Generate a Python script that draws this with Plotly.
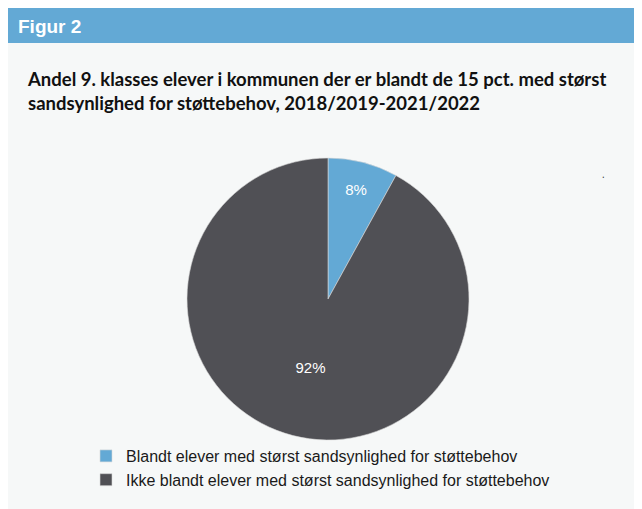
import plotly.graph_objects as go

# data
labels = ["Blandt elever med størst sandsynlighed for støttebehov",
          "Ikke blandt elever med størst sandsynlighed for støttebehov"]
values = [8, 92]
colors = ["#63a9d5", "#505055"]

W, H = 642, 509
OFF = 8  # page body margin

def px_x(x):
    return (x - OFF) / W

def px_y(y):
    return 1 - (y - OFF) / H

fig = go.Figure()

fig.add_trace(go.Pie(
    labels=labels,
    values=values,
    sort=False,
    direction="clockwise",
    rotation=0,
    marker=dict(colors=colors, line=dict(color="#d8d8d8", width=0.6)),
    texttemplate="%{value}%",
    textposition="inside",
    insidetextorientation="horizontal",
    textfont=dict(family="Liberation Sans, Arial", size=15, color="white"),
    hoverinfo="label+percent",
    domain=dict(x=[px_x(187), px_x(469)], y=[px_y(440), px_y(158)]),
))

shapes = [
    # light panel
    dict(type="rect", xref="paper", yref="paper", x0=0, x1=1, y0=0, y1=px_y(43),
         fillcolor="#f6f8f8", line_width=0, layer="below"),
    # blue header band
    dict(type="rect", xref="paper", yref="paper", x0=0, x1=1, y0=px_y(43), y1=1,
         fillcolor="#63a9d5", line_width=0, layer="below"),
]

annotations = [
    dict(text="<b>Figur 2</b>", x=px_x(16), y=px_y(26), xref="paper", yref="paper",
         xanchor="left", yanchor="middle", showarrow=False,
         font=dict(family="Liberation Sans, Arial", size=19, color="white")),
    dict(text="<b>Andel 9. klasses elever i kommunen der er blandt de 15 pct. med størst<br>"
              "sandsynlighed for støttebehov, 2018/2019-2021/2022</b>",
         x=px_x(25), y=px_y(66), xref="paper", yref="paper",
         xanchor="left", yanchor="top", align="left", showarrow=False,
         font=dict(family="Lato, Open Sans", size=18.5, color="#111111")),
    dict(text=".", x=px_x(607), y=px_y(165), xref="paper", yref="paper",
         showarrow=False, font=dict(size=10, color="#333333")),
]

fig.update_layout(
    width=W, height=H,
    margin=dict(l=0, r=0, t=0, b=0, autoexpand=False),
    paper_bgcolor="white",
    plot_bgcolor="white",
    shapes=shapes,
    annotations=annotations,
    showlegend=True,
    legend=dict(
        x=px_x(86), y=px_y(439), xanchor="left", yanchor="top",
        bgcolor="rgba(0,0,0,0)",
        font=dict(family="Liberation Sans, Arial", size=16, color="#1a1a1a"),
        itemwidth=30,
    ),
)

fig.write_html("out.html")
